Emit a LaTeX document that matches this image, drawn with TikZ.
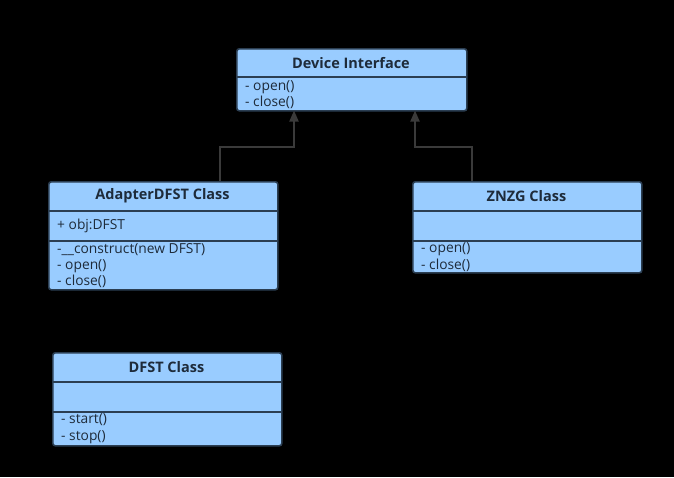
\documentclass[tikz,border=0pt]{standalone}
\usepackage{fontspec}
\setmainfont{Open Sans}
\usetikzlibrary{arrows.meta}
\definecolor{boxfill}{HTML}{99CCFF}
\definecolor{boxline}{HTML}{2B3E52}
\definecolor{txt}{HTML}{1E2B3A}
\definecolor{conn}{HTML}{3A3A3A}
\tikzset{
  classbox/.style={draw=boxline, line width=1.6pt, fill=boxfill, rounded corners=2.5pt, inner sep=0pt, anchor=north west},
  divider/.style={draw=boxline, line width=1.6pt},
  title/.style={font=\fontsize{14.5}{17}\selectfont\bfseries, text=txt, inner sep=0pt},
  member/.style={font=\fontsize{13.8}{15}\selectfont, text=txt, inner sep=0pt, anchor=west},
  inherit/.style={draw=conn, line width=2pt, -{Triangle[length=11pt,width=9pt,fill=conn]}},
}
\begin{document}
\begin{tikzpicture}[x=1pt,y=-1pt]
\fill[black] (0,0) rectangle (674,477);
\useasboundingbox (0,0) rectangle (674,477);

% Device Interface
\node[classbox, minimum width=230pt, minimum height=62pt] (dev) at (236,48) {};
\draw[divider] (236,77) -- (466,77);
\node[title] (devt) at (351,63) {Device Interface};
\node[member] (dev1) at (245,87) {- open()};
\node[member] (dev2) at (245,102) {- close()};

% AdapterDFST
\node[classbox, minimum width=229pt, minimum height=108pt] (ada) at (48,181) {};
\draw[divider] (48,211) -- (277,211);
\draw[divider] (48,241) -- (277,241);
\node[title] (adat) at (162.5,196) {AdapterDFST Class};
\node[member] (ada1) at (57,226) {+ obj:DFST};
\node[member] (ada2) at (57,250) {-\_\_construct(new DFST)};
\node[member] (ada3) at (57,266) {- open()};
\node[member] (ada4) at (57,281) {- close()};

% ZNZG
\node[classbox, minimum width=229pt, minimum height=91pt] (znz) at (412,181) {};
\draw[divider] (412,211) -- (641,211);
\draw[divider] (412,241) -- (641,241);
\node[title] (znzt) at (526.5,196) {ZNZG Class};
\node[member] (znz1) at (421,249) {- open()};
\node[member] (znz2) at (421,265) {- close()};

% DFST
\node[classbox, minimum width=229pt, minimum height=93pt] (dfs) at (52,352) {};
\draw[divider] (52,382) -- (281,382);
\draw[divider] (52,412) -- (281,412);
\node[title] (dfst) at (166.5,367) {DFST Class};
\node[member] (dfs1) at (61,420) {- start()};
\node[member] (dfs2) at (61,437) {- stop()};

% connectors
\coordinate (a2) at (294,147);
\coordinate (z2) at (415,147);
\draw[inherit] (ada.north west) ++(172,0) |- (a2) -- (294,110.5);
\draw[inherit] (znz.north west) ++(60,0) |- (z2) -- (415,110.5);
\end{tikzpicture}
\end{document}
